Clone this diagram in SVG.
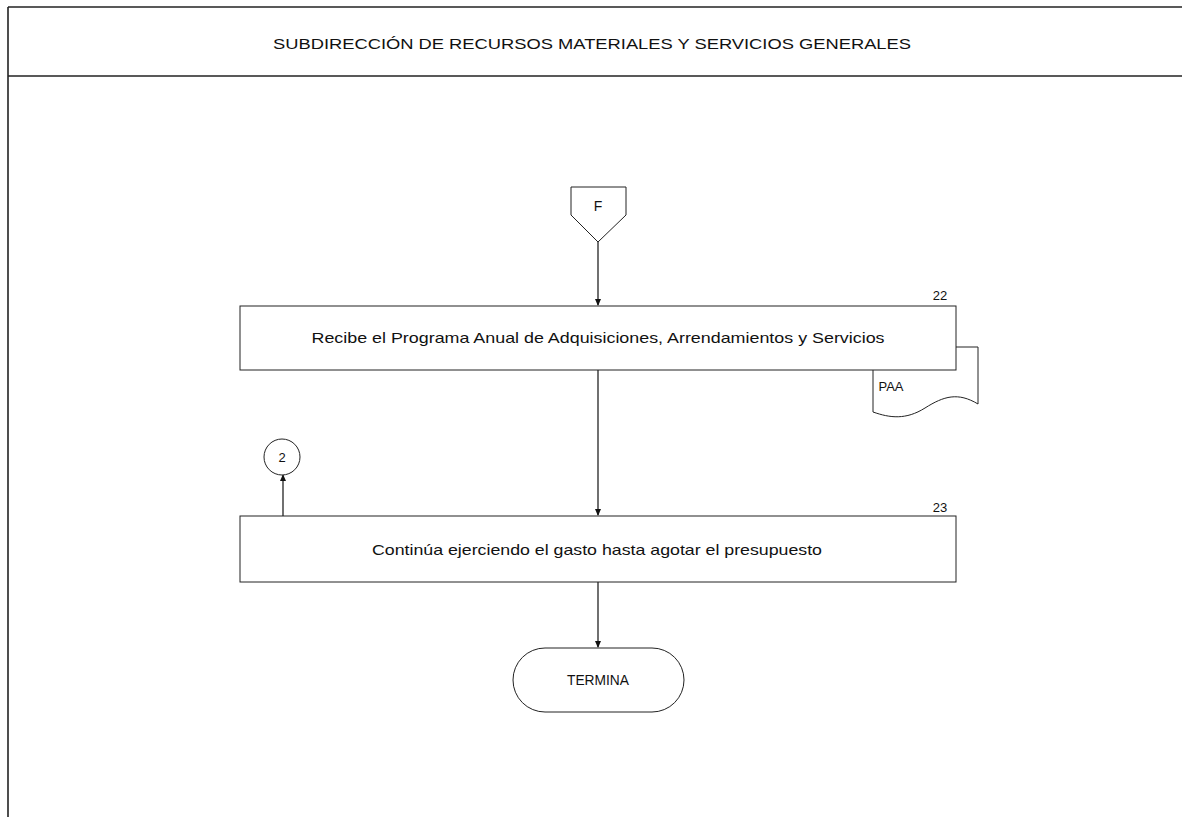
<svg xmlns="http://www.w3.org/2000/svg" width="1182" height="817" viewBox="0 0 1182 817">
  <style>
    .ln { fill: none; stroke: #111; stroke-width: 1.2; }
    .shape { fill: #fff; stroke: #222; stroke-width: 1; }
    .frame { fill: none; stroke: #222; stroke-width: 1.6; }
    .t { font-family: "Liberation Sans", Arial, sans-serif; fill: #111; }
  </style>
  <defs>
    <marker id="arrow" viewBox="0 0 8 8" refX="7" refY="4" markerWidth="7" markerHeight="7" orient="auto" markerUnits="userSpaceOnUse">
      <path d="M0,0.5 L8,4 L0,7.5 Z" fill="#111"/>
    </marker>
  </defs>

  <!-- lane frame and header -->
  <g id="lane">
    <line class="frame" x1="8" y1="7" x2="1182" y2="7"/>
    <line class="frame" x1="8" y1="76" x2="1182" y2="76"/>
    <line class="frame" x1="8" y1="7" x2="8" y2="817"/>
    <text class="t" x="592" y="49" font-size="15" text-anchor="middle" textLength="638" lengthAdjust="spacingAndGlyphs">SUBDIRECCIÓN DE RECURSOS MATERIALES Y SERVICIOS GENERALES</text>
  </g>

  <!-- connectors -->
  <g id="connectors">
    <line class="ln" x1="598" y1="242" x2="598" y2="305" marker-end="url(#arrow)"/>
    <line class="ln" x1="598" y1="370" x2="598" y2="515" marker-end="url(#arrow)"/>
    <line class="ln" x1="283" y1="516" x2="283" y2="475" marker-end="url(#arrow)"/>
    <line class="ln" x1="598" y1="582" x2="598" y2="647" marker-end="url(#arrow)"/>
  </g>

  <!-- off-page connector F -->
  <g id="node-F">
    <path class="shape" d="M571,187 L626,187 L626,215 L598,242 L571,215 Z"/>
    <text class="t" x="598" y="211" font-size="14" text-anchor="middle">F</text>
  </g>

  <!-- PAA document -->
  <g id="doc-PAA">
    <path class="shape" d="M873,370 L873,347 L978,347 L978,404 C958,392 944,396 925,408 C906,420 890,418 873,412 Z"/>
    <text class="t" x="891" y="391" font-size="13" text-anchor="middle">PAA</text>
  </g>

  <!-- activity 22 -->
  <g id="act-22">
    <rect class="shape" x="240" y="306" width="716" height="64"/>
    <text class="t" x="940" y="300" font-size="13" text-anchor="middle">22</text>
    <text class="t" x="598" y="343" font-size="15" text-anchor="middle" textLength="573" lengthAdjust="spacingAndGlyphs">Recibe el Programa Anual de Adquisiciones, Arrendamientos y Servicios</text>
  </g>

  <!-- connector circle 2 -->
  <g id="conn-2">
    <circle class="shape" cx="282" cy="457" r="18"/>
    <text class="t" x="282" y="462" font-size="13" text-anchor="middle">2</text>
  </g>

  <!-- activity 23 -->
  <g id="act-23">
    <rect class="shape" x="240" y="516" width="716" height="66"/>
    <text class="t" x="940" y="512" font-size="13" text-anchor="middle">23</text>
    <text class="t" x="597" y="555" font-size="15" text-anchor="middle" textLength="450" lengthAdjust="spacingAndGlyphs">Continúa ejerciendo el gasto hasta agotar el presupuesto</text>
  </g>

  <!-- terminator -->
  <g id="end">
    <rect class="shape" x="513" y="648" width="171" height="64" rx="32" ry="32"/>
    <text class="t" x="598" y="685" font-size="14" text-anchor="middle" textLength="62" lengthAdjust="spacingAndGlyphs">TERMINA</text>
  </g>
</svg>
